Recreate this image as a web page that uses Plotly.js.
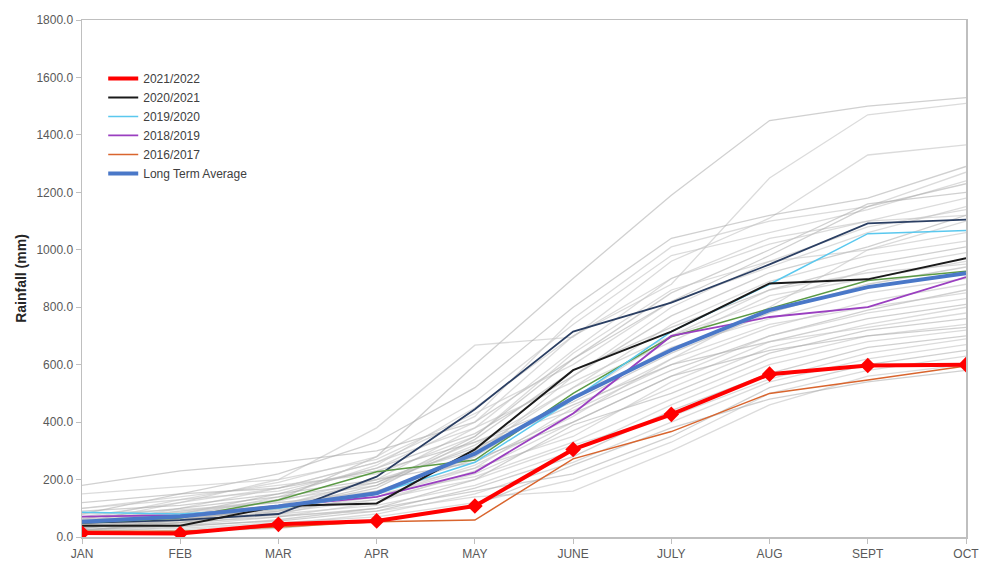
<!DOCTYPE html>
<html>
<head>
<meta charset="utf-8">
<script src="https://cdn.plot.ly/plotly-3.0.1.min.js"></script>
<style>html,body{margin:0;padding:0;background:#fff;}#chart{width:981px;height:561px;}</style>
</head>
<body>
<div id="chart"></div>
<script>
const months = ["JAN","FEB","MAR","APR","MAY","JUNE","JULY","AUG","SEPT","OCT"];

const s2021_2022 = [14, 12, 44, 56, 108, 305, 427, 567, 597, 600];
const s2020_2021 = [39, 39, 108, 117, 305, 581, 715, 883, 897, 971];
const s2019_2020 = [86, 80, 100, 150, 260, 480, 715, 880, 1056, 1067];
const s2018_2019 = [71, 76, 108, 140, 225, 430, 700, 766, 800, 905];
const s2016_2017 = [20, 20, 35, 53, 59, 272, 367, 500, 547, 595];
const longTermAvg = [53, 71, 106, 152, 290, 484, 651, 790, 870, 918];
const otherNavy = [49, 59, 80, 210, 445, 715, 816, 949, 1092, 1105];
const otherGreen = [50, 66, 129, 227, 268, 500, 697, 796, 893, 925];

const historicYears = [
  [20, 60, 130, 280, 600, 900, 1190, 1450, 1500, 1530],
  [30, 70, 140, 250, 450, 700, 880, 1250, 1470, 1510],
  [50, 120, 200, 380, 668, 696, 960, 1110, 1330, 1365],
  [80, 150, 220, 330, 520, 800, 1040, 1120, 1180, 1290],
  [40, 100, 170, 260, 420, 760, 1010, 1100, 1150, 1270],
  [60, 130, 190, 280, 470, 740, 980, 1060, 1140, 1240],
  [180, 230, 260, 300, 400, 620, 850, 1000, 1160, 1200],
  [20, 50, 110, 200, 380, 650, 900, 1040, 1100, 1180],
  [150, 175, 200, 270, 430, 600, 820, 940, 1060, 1150],
  [30, 80, 150, 240, 360, 560, 770, 920, 1010, 1120],
  [100, 140, 180, 220, 350, 640, 860, 960, 1000, 1060],
  [60, 90, 130, 180, 320, 520, 740, 890, 980, 1030],
  [40, 60, 100, 170, 340, 580, 730, 860, 950, 1010],
  [70, 120, 170, 260, 380, 540, 700, 820, 930, 990],
  [25, 45, 80, 150, 300, 520, 680, 840, 900, 960],
  [120, 150, 170, 230, 330, 470, 640, 780, 880, 940],
  [50, 90, 120, 160, 280, 480, 660, 760, 850, 900],
  [35, 70, 110, 190, 330, 440, 600, 730, 820, 880],
  [90, 110, 150, 200, 260, 430, 580, 700, 790, 860],
  [45, 70, 90, 140, 250, 420, 620, 740, 800, 850],
  [20, 40, 70, 120, 230, 400, 560, 700, 780, 830],
  [65, 100, 140, 190, 310, 460, 600, 680, 760, 810],
  [30, 55, 85, 130, 220, 370, 520, 660, 740, 800],
  [55, 80, 100, 160, 240, 350, 540, 680, 730, 780],
  [15, 35, 60, 100, 200, 390, 500, 640, 720, 760],
  [80, 95, 120, 150, 210, 330, 480, 620, 700, 740],
  [40, 60, 80, 110, 180, 300, 460, 600, 680, 720],
  [25, 40, 55, 90, 170, 280, 440, 570, 660, 700],
  [60, 75, 95, 130, 200, 320, 420, 550, 640, 690],
  [10, 25, 45, 80, 150, 260, 400, 540, 620, 670],
  [35, 50, 70, 100, 160, 220, 350, 520, 600, 650],
  [20, 30, 50, 70, 120, 200, 330, 500, 580, 630],
  [50, 60, 75, 90, 140, 160, 300, 460, 560, 600],
  [15, 20, 30, 60, 110, 250, 380, 480, 540, 580],
  [70, 85, 110, 140, 240, 450, 620, 800, 1000, 1100],
  [45, 65, 95, 150, 280, 560, 800, 960, 1080, 1140],
  [30, 60, 100, 180, 350, 620, 820, 980, 1150, 1230],
  [100, 130, 160, 240, 400, 700, 900, 1020, 1100, 1120],
  [55, 85, 125, 200, 300, 480, 700, 860, 920, 950],
  [25, 50, 90, 160, 270, 400, 560, 650, 700, 730]
];

const yTicks = [0, 200, 400, 600, 800, 1000, 1200, 1400, 1600, 1800];

const traces = [];
historicYears.forEach((vals, i) => {
  traces.push({
    x: months, y: vals, type: 'scatter', mode: 'lines',
    line: {color: i % 3 === 0 ? 'rgba(170,170,170,0.55)' : 'rgba(195,195,195,0.6)', width: 1.3},
    showlegend: false, hoverinfo: 'skip'
  });
});
traces.push({x: months, y: otherNavy, type: 'scatter', mode: 'lines', line: {color: '#2b3f63', width: 1.8}, showlegend: false});
traces.push({x: months, y: otherGreen, type: 'scatter', mode: 'lines', line: {color: '#5b9a45', width: 1.5}, showlegend: false});
traces.push({x: months, y: s2016_2017, type: 'scatter', mode: 'lines', name: '2016/2017', legendrank: 5, line: {color: '#d9652e', width: 1.5}});
traces.push({x: months, y: s2018_2019, type: 'scatter', mode: 'lines', name: '2018/2019', legendrank: 4, line: {color: '#9a3fc0', width: 1.8}});
traces.push({x: months, y: s2019_2020, type: 'scatter', mode: 'lines', name: '2019/2020', legendrank: 3, line: {color: '#5ac8ee', width: 1.5}});
traces.push({x: months, y: s2020_2021, type: 'scatter', mode: 'lines', name: '2020/2021', legendrank: 2, line: {color: '#1a1a1a', width: 2}});
traces.push({x: months, y: longTermAvg, type: 'scatter', mode: 'lines', name: 'Long Term Average', legendrank: 6, line: {color: '#4a78c8', width: 4}});
traces.push({x: months, y: s2021_2022, type: 'scatter', mode: 'lines', name: '2021/2022', legendrank: 1,
  line: {color: '#ff0000', width: 4}});
traces.push({x: months, y: s2021_2022, type: 'scatter', mode: 'markers', showlegend: false,
  marker: {symbol: 'diamond', size: 12, color: '#ff0000'}});

const layout = {
  width: 981, height: 561,
  margin: {l: 82, r: 15, t: 20, b: 24},
  paper_bgcolor: '#ffffff', plot_bgcolor: '#ffffff',
  font: {family: 'Liberation Sans, Arial, sans-serif', color: '#595959', size: 12},
  showlegend: true,
  legend: {x: 0.024, y: 0.915, xanchor: 'left', yanchor: 'top', bgcolor: 'rgba(0,0,0,0)',
    font: {size: 12, color: '#404040', family: 'Liberation Sans, Arial, sans-serif'}, traceorder: 'normal', tracegroupgap: 0},
  xaxis: {
    type: 'category', range: [0, 9], categoryorder: 'array', categoryarray: months,
    showline: true, linecolor: '#bfbfbf', linewidth: 1.5, mirror: true,
    ticks: 'outside', ticklen: 5, tickcolor: '#bfbfbf', showgrid: false, zeroline: false,
    tickfont: {family: 'Liberation Sans Narrow, Arial Narrow, Liberation Sans, sans-serif', size: 12, color: '#595959'}
  },
  yaxis: {
    range: [0, 1800], tickvals: yTicks, tickformat: '.1f',
    showline: true, linecolor: '#bfbfbf', linewidth: 1.5, mirror: true,
    ticks: 'outside', ticklen: 5, tickcolor: '#bfbfbf', showgrid: false, zeroline: false,
    tickfont: {family: 'Liberation Sans, Arial, sans-serif', size: 12, color: '#595959'},
    title: {text: '<b>Rainfall (mm)</b>', font: {family: 'Liberation Sans, Arial, sans-serif', size: 14, color: '#262626'}, standoff: 6}
  }
};

Plotly.newPlot('chart', traces, layout, {displayModeBar: false, staticPlot: true});
</script>
</body>
</html>
